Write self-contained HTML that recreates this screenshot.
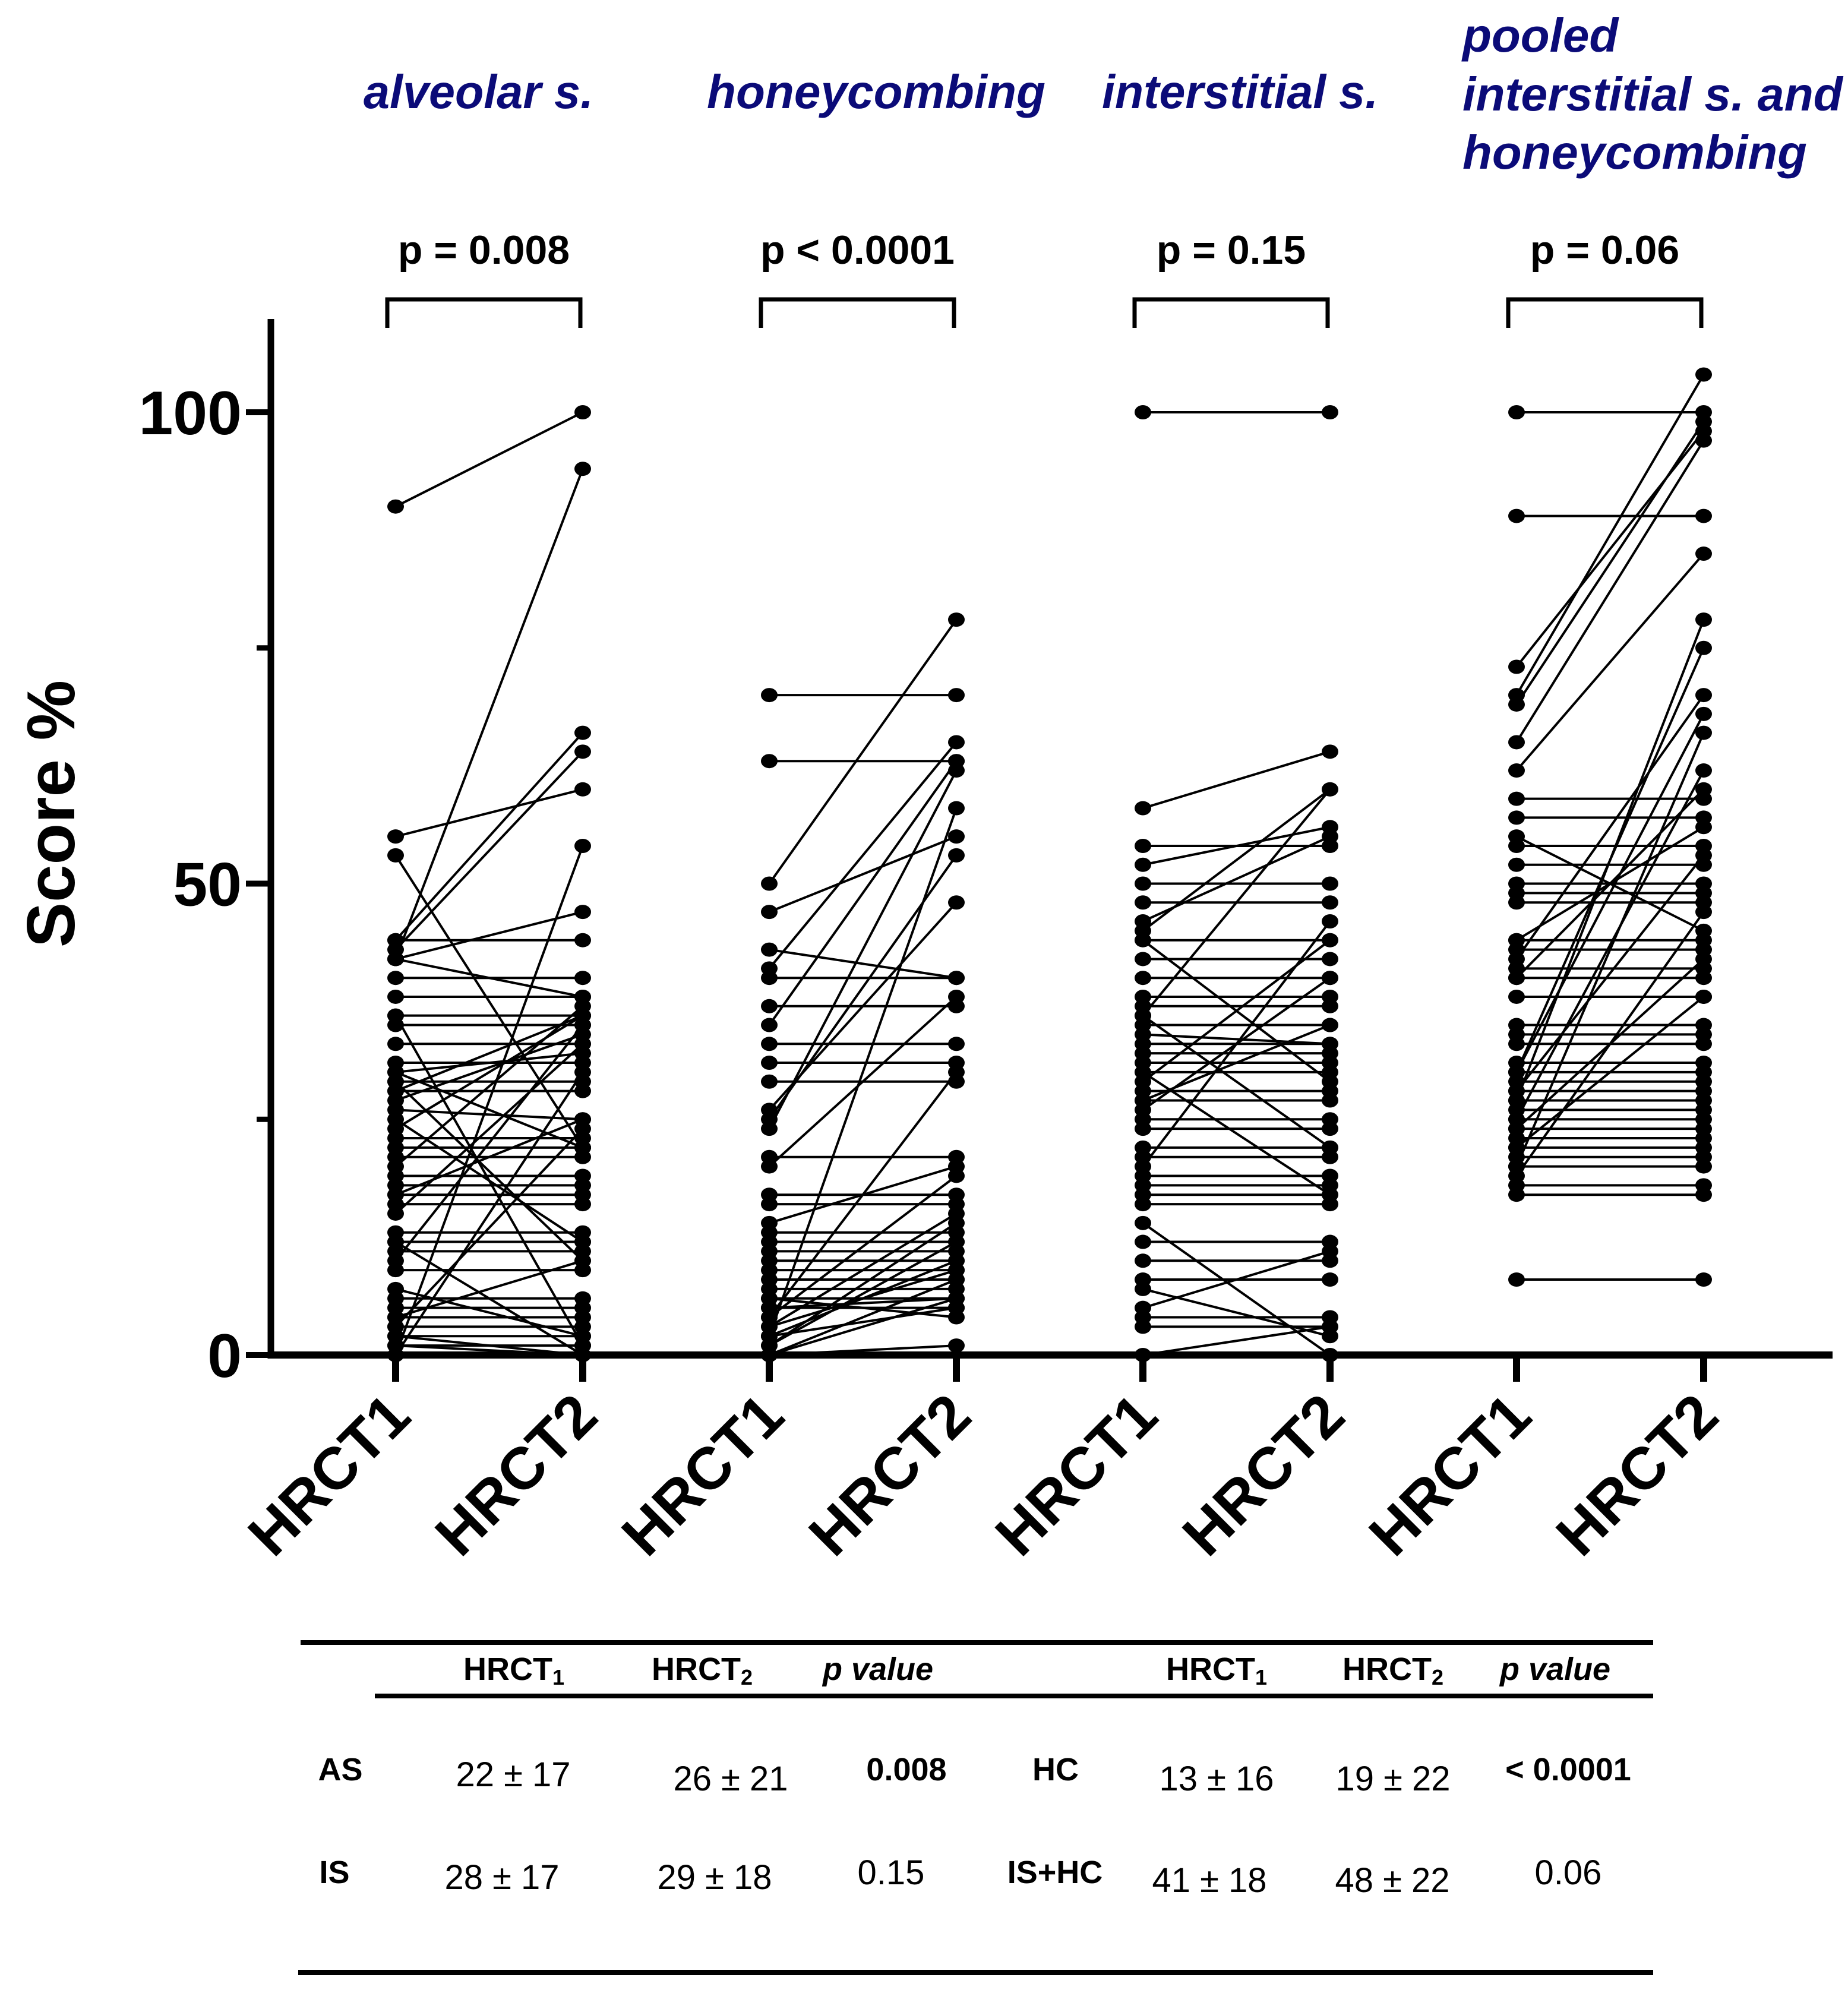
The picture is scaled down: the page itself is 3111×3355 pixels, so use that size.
<!DOCTYPE html>
<html><head><meta charset="utf-8"><style>
html,body{margin:0;padding:0;background:#fff;}
svg{display:block;}
.t{font-family:"Liberation Sans",sans-serif;}
.n{font-family:"Liberation Sans Narrow","Liberation Sans",sans-serif;}
</style></head><body>
<svg id="chart" width="3111" height="3355" viewBox="0 0 3111 3355" xmlns="http://www.w3.org/2000/svg">
<g fill="#0b0b78" font-style="italic" font-weight="bold" font-size="80" class="t">
<text x="612" y="182" textLength="387" lengthAdjust="spacingAndGlyphs">alveolar s.</text>
<text x="1190" y="182" textLength="570" lengthAdjust="spacingAndGlyphs">honeycombing</text>
<text x="1855" y="182" textLength="465" lengthAdjust="spacingAndGlyphs">interstitial s.</text>
<text x="2462" y="87">pooled</text>
<text x="2462" y="186" textLength="640" lengthAdjust="spacingAndGlyphs">interstitial s. and</text>
<text x="2462" y="284" textLength="580" lengthAdjust="spacingAndGlyphs">honeycombing</text>
</g>
<g id="plot"></g>
<g class="n" font-size="58">
<rect x="506" y="2761" width="2277" height="8" fill="#000"/>
<rect x="631" y="2851" width="2152" height="8" fill="#000"/>
<rect x="502" y="3316" width="2281" height="9" fill="#000"/>
<g font-weight="bold" text-anchor="middle" font-size="54">
<text x="865" y="2828">HRCT<tspan font-size="36" dy="8">1</tspan></text>
<text x="1182" y="2828">HRCT<tspan font-size="36" dy="8">2</tspan></text>
<text x="1478" y="2828" font-style="italic">p value</text>
<text x="2048" y="2828">HRCT<tspan font-size="36" dy="8">1</tspan></text>
<text x="2345" y="2828">HRCT<tspan font-size="36" dy="8">2</tspan></text>
<text x="2618" y="2828" font-style="italic">p value</text>
<text x="573" y="2997">AS</text>
<text x="1777" y="2997">HC</text>
<text x="563" y="3170">IS</text>
<text x="1776" y="3170">IS+HC</text>
<text x="1526" y="2997">0.008</text>
<text x="2640" y="2997">&lt; 0.0001</text>
</g>
<g text-anchor="middle">
<text x="864" y="3007">22 ± 17</text>
<text x="1230" y="3014">26 ± 21</text>
<text x="2048" y="3014">13 ± 16</text>
<text x="2345" y="3014">19 ± 22</text>
<text x="845" y="3180">28 ± 17</text>
<text x="1203" y="3180">29 ± 18</text>
<text x="1500" y="3172">0.15</text>
<text x="2036" y="3185">41 ± 18</text>
<text x="2344" y="3185">48 ± 22</text>
<text x="2640" y="3172">0.06</text>
</g>
</g>
</svg>
<script>
const groups = ["alveolar", "honeycombing", "interstitial", "pooled"];
const pValues = ["p = 0.008", "p < 0.0001", "p = 0.15", "p = 0.06"];
const yTicks = [0, 50, 100];
const yMinorTicks = [25, 75];
const xLabels = ["HRCT1", "HRCT2"];
const asT1 = [90,42,55,53,44,43,42,44,40,42,38,36,35,33,31,30,29,28,27,26,25,24,23,22,21,20,19,18,17,16,15,13,12,11,10,9,7,6,5,4,3,2,1,0,0,2,1,4,3,12,17,29,36,30,28];
const asT2 = [100,94,60,22,66,64,47,44,40,38,38,36,35,33,31,22,29,28,34,25,12,36,23,22,21,37,19,18,17,16,33,13,12,11,35,9,2,6,5,4,3,2,1,54,30,0,0,10,24,0,25,10,1,32,36];
const hcT1 = [70,63,50,47,43,41,40,37,35,33,31,29,26,25,24,21,20,17,16,14,13,12,11,10,9,8,7,6,5,4,3,2,2,1,0,0,1,3,4,5,6,0,2];
const hcT2 = [70,63,78,55,40,65,40,37,63,33,31,29,48,53,62,21,38,17,16,20,13,12,11,10,9,8,7,6,5,19,15,58,10,14,8,6,12,9,30,6,4,1,5];
const isT1 = [100,58,54,52,50,48,46,45,44,42,40,38,37,36,35,34,33,32,31,30,29,28,27,26,25,24,22,21,20,19,18,17,16,14,12,10,8,7,5,4,3,0,27,30,44,36];
const isT2 = [100,64,54,56,50,48,55,60,44,42,40,38,37,60,35,33,33,32,31,30,44,28,27,40,25,24,22,21,46,19,18,17,16,0,12,10,8,2,11,4,3,3,35,17,29,22];
const poT1 = [100,89,73,70,69,65,62,59,57,54,52,50,49,48,44,43,41,40,38,35,34,33,31,30,29,28,27,26,25,24,23,22,21,20,18,17,8,27,30,20,25,40,44,55,28,19,24,22,42,30];
const poT2 = [100,89,98,104,99,97,85,59,57,54,52,50,49,48,44,43,41,40,38,35,34,33,31,30,29,28,27,26,25,24,23,22,21,20,18,17,8,78,75,66,62,60,56,45,53,47,42,38,70,68];
const series = [[asT1, asT2], [hcT1, hcT2], [isT1, isT2], [poT1, poT2]];

const NS = "http://www.w3.org/2000/svg";
const plot = document.getElementById("plot");
const X0 = 456, XEND = 3085, Y0 = 2281, Y100 = 694;
const groupX = [[666, 981], [1295, 1610], [1924, 2239], [2553, 2868]];
function yScale(v) { return Y0 - (v / 100) * (Y0 - Y100); }
function xScale(g, t) { return groupX[g][t]; }
function mk(tag, attrs, parent) {
  const e = document.createElementNS(NS, tag);
  for (const k in attrs) e.setAttribute(k, attrs[k]);
  (parent || plot).appendChild(e);
  return e;
}

let yAxis = mk("line", {x1: X0, y1: 537, x2: X0, y2: Y0 + 6, stroke: "#000", "stroke-width": 11});


yTicks.forEach(v => {
  const y = yScale(v);
  const tk = mk("line", {x1: 414, y1: y, x2: X0, y2: y, stroke: "#000", "stroke-width": 10});
  
  
  const lb = mk("text", {x: 407, y: y + 37, "text-anchor": "end", "font-family": "Liberation Sans, sans-serif", "font-weight": "bold", "font-size": 104});
  lb.textContent = String(v);
  
  
});
yMinorTicks.forEach(v => {
  const y = yScale(v);
  const tk = mk("line", {x1: 432, y1: y, x2: X0, y2: y, stroke: "#000", "stroke-width": 9});
  
  
});
const yTitle = mk("text", {x: 0, y: 0, transform: "translate(125,1370) rotate(-90)", "text-anchor": "middle", "font-family": "Liberation Sans, sans-serif", "font-weight": "bold", "font-size": 114});
yTitle.textContent = "Score %";



series.forEach((pair, g) => {
  const grp = mk("g", {});
  
  
  const a = pair[0], b = pair[1];
  for (let i = 0; i < a.length; i++) {
    const ln = mk("line", {x1: xScale(g, 0), y1: yScale(a[i]), x2: xScale(g, 1), y2: yScale(b[i]), stroke: "#000", "stroke-width": 4}, grp);
    
    
  }
  for (let i = 0; i < a.length; i++) {
    [a[i], b[i]].forEach((v, t) => {
      const d = mk("ellipse", {cx: xScale(g, t), cy: yScale(v), rx: 14, ry: 12, fill: "#000"}, grp);
      
      
    });
  }
  const bx1 = xScale(g, 0) - 14, bx2 = xScale(g, 1) - 4;
  const br = mk("path", {d: `M${bx1},552 V504 H${bx2} V552`, fill: "none", stroke: "#000", "stroke-width": 7}, plot);
  
  
  const pt = mk("text", {x: (bx1 + bx2) / 2, y: 444, "text-anchor": "middle", "font-family": "Liberation Sans, sans-serif", "font-weight": "bold", "font-size": 68});
  pt.textContent = pValues[g];
  
  
  [0, 1].forEach(t => {
    const x = xScale(g, t);
    const tk = mk("line", {x1: x, y1: Y0, x2: x, y2: 2326, stroke: "#000", "stroke-width": 12});
    
    
    const lb = mk("text", {x: 0, y: 0, transform: `translate(${x + 30},${Y0 + 108}) rotate(-45)`, "text-anchor": "end", "font-family": "Liberation Sans, sans-serif", "font-weight": "bold", "font-size": 100});
    lb.textContent = xLabels[t];
    
    
  });
});
let xAxis = mk("line", {x1: X0 - 5, y1: Y0, x2: XEND, y2: Y0, stroke: "#000", "stroke-width": 12});


</script>
</body></html>
